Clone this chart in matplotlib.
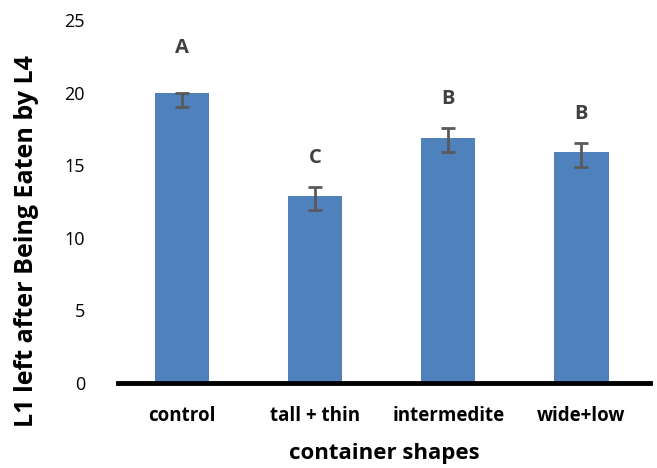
import numpy as np
import matplotlib
matplotlib.use("Agg")
import matplotlib.pyplot as plt

# container shapes and L1 left after predation
shapes = ["control", "tall + thin", "intermedite", "wide+low"]
means = [20.0, 12.9, 16.9, 15.9]
err_low = [1.0, 1.0, 1.0, 1.0]
err_high = [0.0, 0.63, 0.63, 0.6]
letters = ["A", "C", "B", "B"]

plt.rcParams["font.family"] = ["Open Sans", "DejaVu Sans"]

fig = plt.figure(figsize=(6.57, 4.68), dpi=100)
ax = fig.add_axes([0.18, 0.182, 0.81, 0.775])

x = np.arange(len(shapes))
ax.bar(x, means, width=0.41, color="#4f81bd")
ax.errorbar(x, means, yerr=[err_low, err_high], fmt="none",
            ecolor="#595959", elinewidth=2, capsize=5, capthick=2)

for xi, m, eh, lab in zip(x, means, err_high, letters):
    ax.text(xi, m + eh + 2.0 + (1.1 if eh == 0 else 0), lab,
            ha="center", va="center", fontsize=14.5, fontweight="bold",
            color="#404040")

ax.set_ylim(0, 25)
ax.set_xlim(-0.48, 3.52)
ax.set_yticks([0, 5, 10, 15, 20, 25])
ax.set_xticks(x)
ax.set_xticklabels(shapes, fontsize=13.5, fontweight="bold")
ax.tick_params(axis="y", length=0, labelsize=13, pad=24)
ax.tick_params(axis="x", length=0, pad=17)

for s in ["top", "right", "left"]:
    ax.spines[s].set_visible(False)
ax.spines["bottom"].set_linewidth(3.5)

ax.set_xlabel("container shapes", fontsize=16, fontweight="bold", labelpad=12)
ax.set_ylabel("L1 left after Being Eaten by L4", fontsize=18,
              fontweight="bold")
ax.yaxis.set_label_coords(-0.148, 0.39)

fig.savefig("out.png", dpi=100)
